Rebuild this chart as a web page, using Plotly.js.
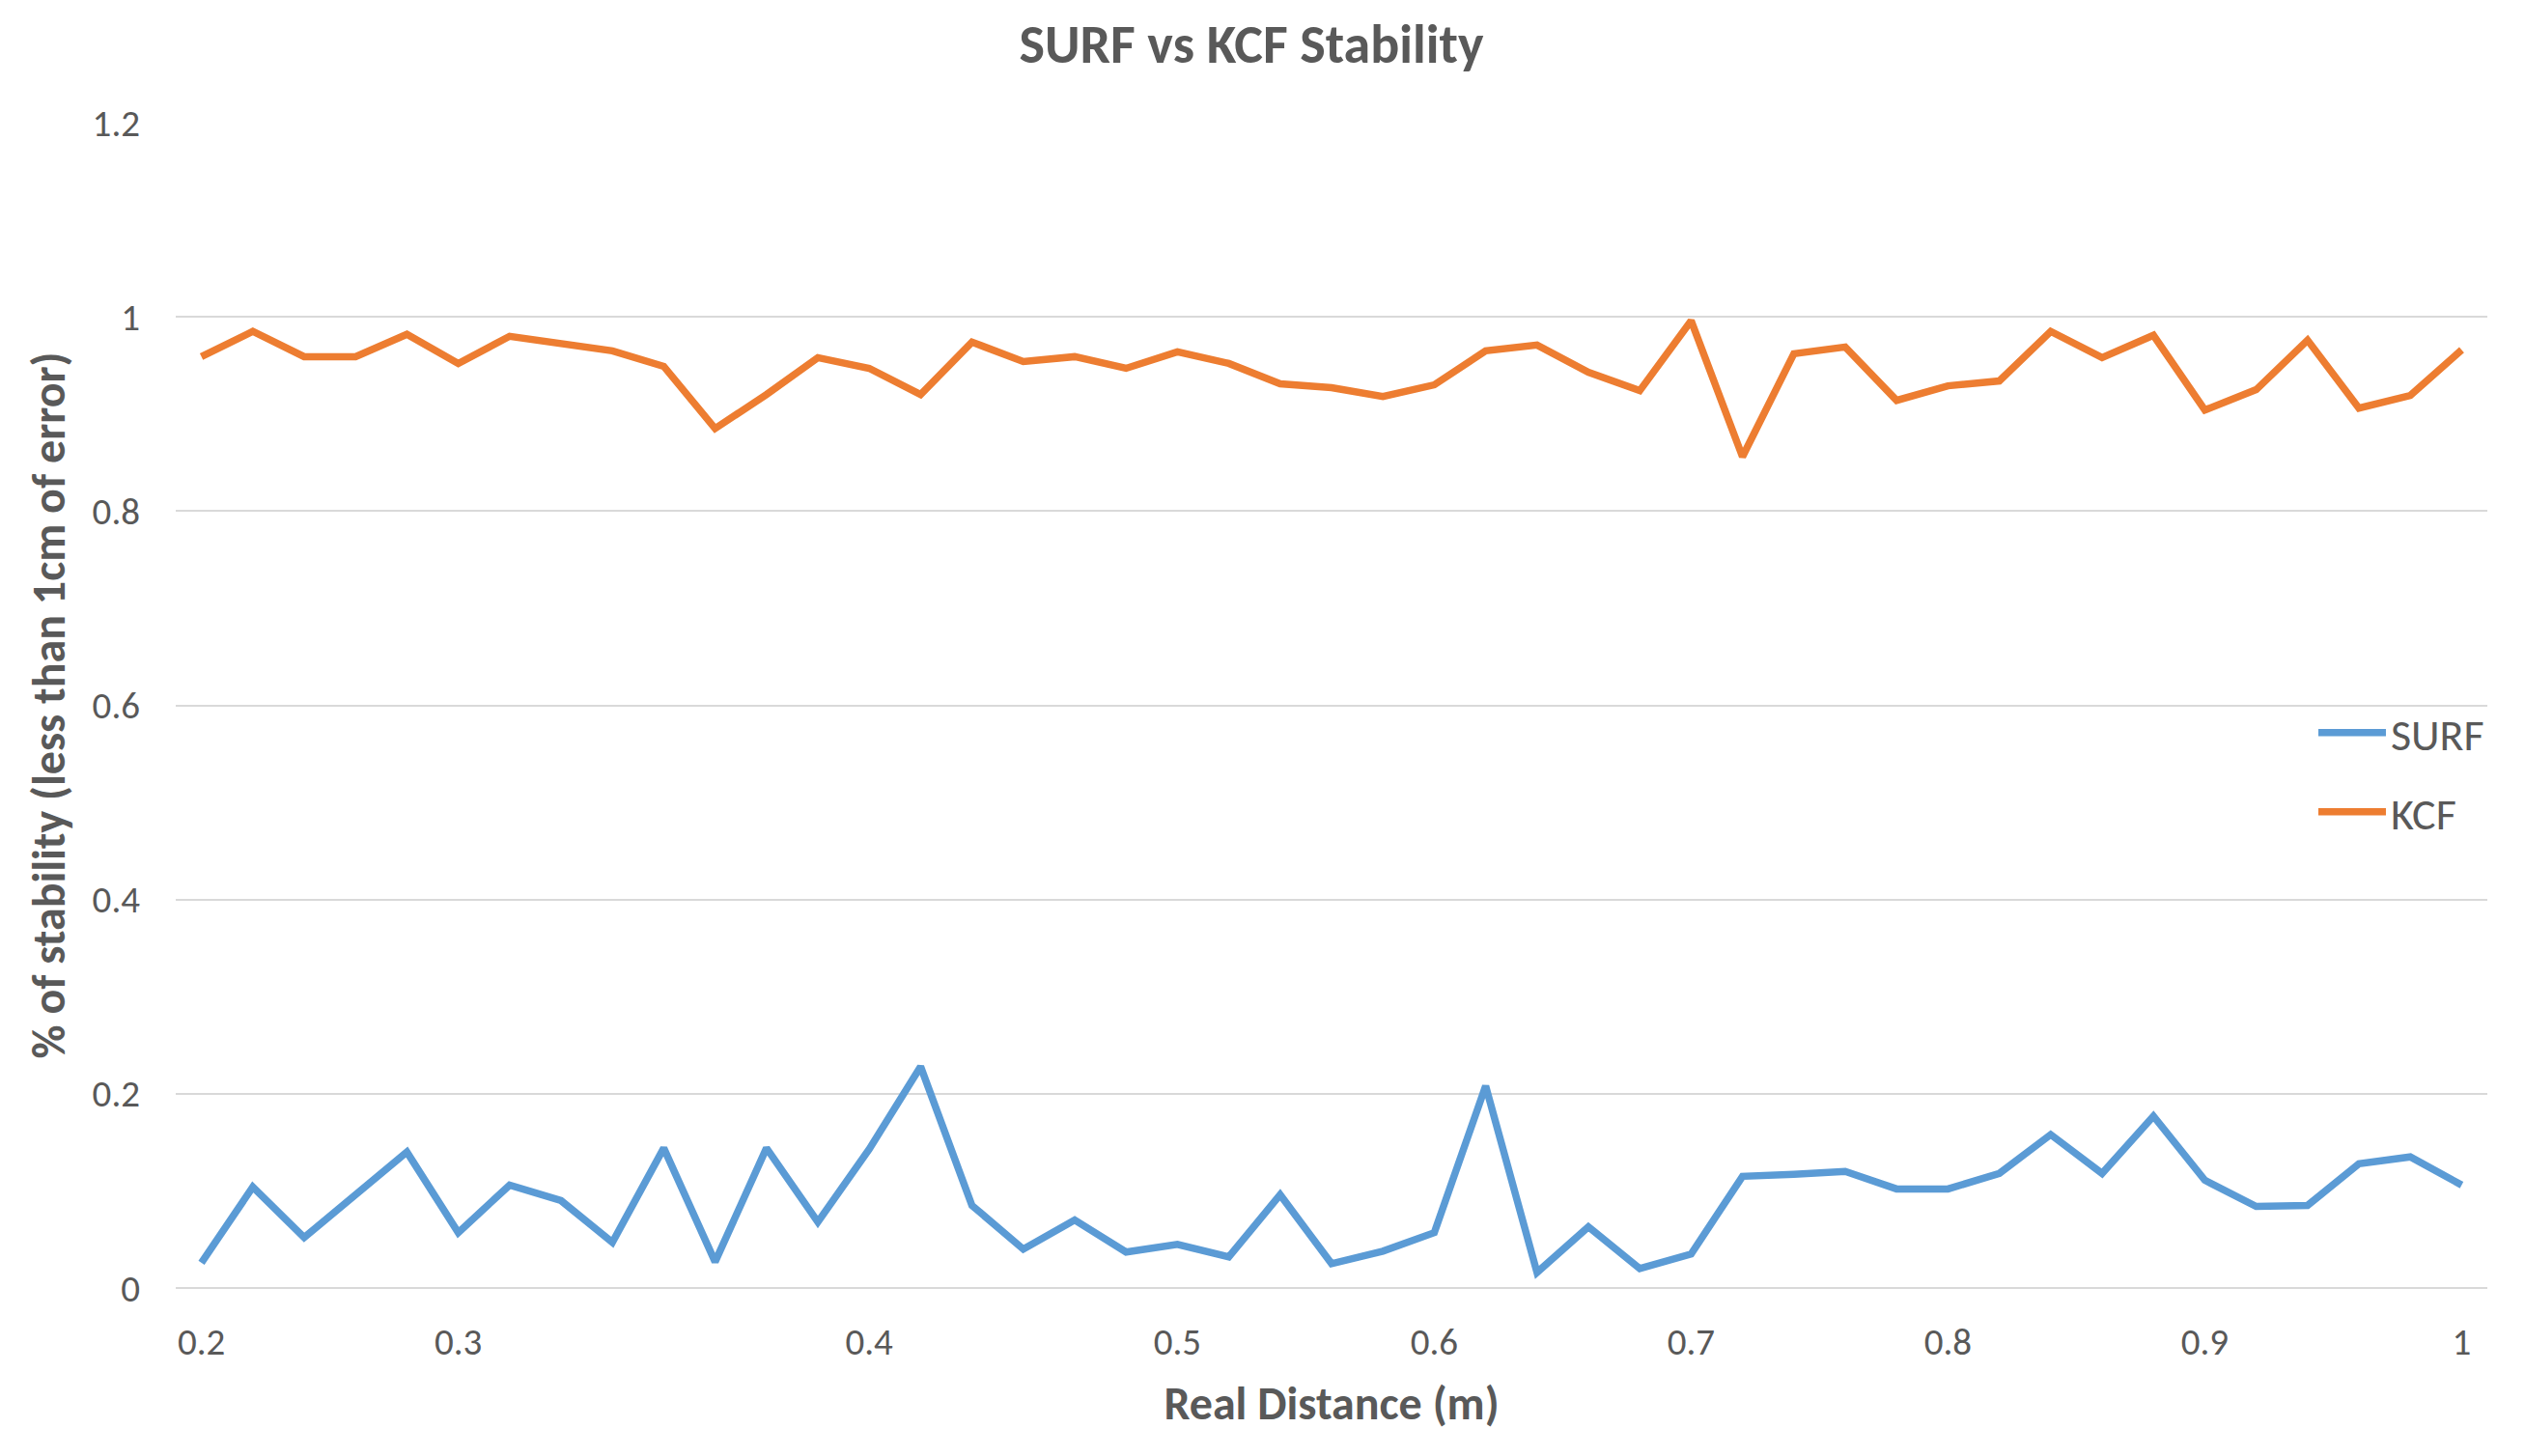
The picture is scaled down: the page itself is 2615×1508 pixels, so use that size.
<!DOCTYPE html>
<html>
<head>
<meta charset="utf-8">
<script src="https://cdn.plot.ly/plotly-3.0.1.min.js"></script>
<style>
  html, body { margin: 0; padding: 0; background: #ffffff; }
  #chart { width: 2615px; height: 1508px; }
</style>
</head>
<body>
<div id="chart"></div>
<script>
// ---- data ----
const surf = [
  0.026, 0.104, 0.052, 0.097, 0.140, 0.057, 0.106, 0.090, 0.047, 0.144,
  0.027, 0.144, 0.068, 0.143, 0.228, 0.085, 0.040, 0.070, 0.037, 0.045,
  0.032, 0.096, 0.025, 0.038, 0.057, 0.208, 0.016, 0.063, 0.020, 0.035,
  0.115, 0.117, 0.120, 0.102, 0.102, 0.118, 0.158, 0.118, 0.177, 0.111,
  0.084, 0.085, 0.128, 0.135, 0.106
];
const kcf = [
  0.959, 0.985, 0.959, 0.959, 0.982, 0.952, 0.980, 0.972, 0.965, 0.949,
  0.885, 0.920, 0.958, 0.947, 0.920, 0.974, 0.954, 0.959, 0.947, 0.964,
  0.952, 0.931, 0.927, 0.918, 0.930, 0.965, 0.971, 0.943, 0.924, 0.996,
  0.856, 0.962, 0.969, 0.914, 0.929, 0.934, 0.985, 0.958, 0.981, 0.904,
  0.925, 0.976, 0.906, 0.919, 0.966
];
const tickPositions = [0, 5, 13, 19, 24, 29, 34, 39, 44];
const tickLabels = ['0.2', '0.3', '0.4', '0.5', '0.6', '0.7', '0.8', '0.9', '1'];
const seriesNames = ['SURF', 'KCF'];

const xIdx = surf.map((_, i) => i);

const FONT = 'Carlito, Calibri, Lato, "Open Sans", sans-serif';
const GRAY = '#595959';

const traces = [
  {
    x: xIdx, y: surf, name: seriesNames[0], type: 'scatter', mode: 'lines',
    line: { color: '#5B9BD5', width: 7.5 }, legend: 'legend'
  },
  {
    x: xIdx, y: kcf, name: seriesNames[1], type: 'scatter', mode: 'lines',
    line: { color: '#ED7D31', width: 7.5 }, legend: 'legend2'
  }
];

const legendCommon = {
  xref: 'paper', yref: 'paper', xanchor: 'left', yanchor: 'middle',
  bgcolor: 'rgba(0,0,0,0)', borderwidth: 0, itemwidth: 70,
  font: { family: FONT, size: 46, color: GRAY }
};

const layout = {
  width: 2615, height: 1508,
  paper_bgcolor: '#ffffff', plot_bgcolor: '#ffffff',
  margin: { l: 182, r: 39, t: 127, b: 174 },
  font: { family: FONT, color: GRAY },
  title: {
    text: '<b>SURF vs KCF Stability</b>',
    font: { family: FONT, size: 56, color: GRAY },
    xref: 'container', x: 0.4956, xanchor: 'center',
    yref: 'container', y: 1 - 45 / 1508, yanchor: 'middle'
  },
  xaxis: {
    range: [-0.5, surf.length - 0.5],
    tickmode: 'array', tickvals: tickPositions, ticktext: tickLabels,
    showgrid: false, zeroline: false, showline: false, ticks: '',
    ticklabelstandoff: 29,
    tickfont: { family: FONT, size: 39, color: GRAY },
    title: {
      text: '<b>Real Distance (m)</b>',
      font: { family: FONT, size: 48, color: GRAY },
      standoff: 24
    }
  },
  yaxis: {
    range: [0, 1.2], dtick: 0.2, tick0: 0,
    showgrid: true, gridcolor: '#D9D9D9', gridwidth: 2,
    zeroline: true, zerolinecolor: '#D9D9D9', zerolinewidth: 2,
    showline: false, ticks: '',
    ticklabelstandoff: 36,
    tickfont: { family: FONT, size: 39, color: GRAY },
    title: {
      text: '<b>% of stability (less than 1cm of error)</b>',
      font: { family: FONT, size: 48, color: GRAY },
      standoff: 12
    }
  },
  legend: Object.assign({}, legendCommon, { x: 0.9248, y: 0.4765 }),
  legend2: Object.assign({}, legendCommon, { x: 0.9248, y: 0.4086 }),
  showlegend: true
};

Plotly.newPlot('chart', traces, layout, { displayModeBar: false, staticPlot: true });
</script>
</body>
</html>
